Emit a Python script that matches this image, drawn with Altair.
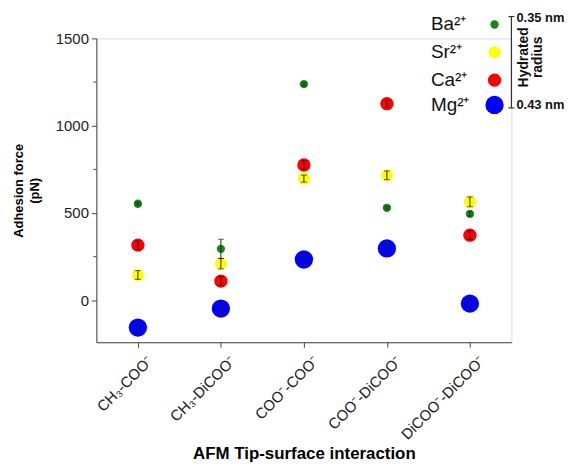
import altair as alt
import pandas as pd

categories = ["CH₃-COO⁻", "CH₃-DiCOO⁻", "COO⁻-COO⁻", "COO⁻-DiCOO⁻", "DiCOO⁻-DiCOO⁻"]
ions = ["Mg²⁺", "Ca²⁺", "Sr²⁺", "Ba²⁺"]
colors = ["#0000ff", "#ff0000", "#ffff00", "#138a13"]
sizes = [340, 180, 150, 70]

mg = [-156, -47, 234, 297, -19]
ca = [316, 110, 775, 1126, 373]
sr = [145, 210, 697, 716, 564]
ba = [553, 295, 1238, 530, 495]

mg_err = [20, 30, 25, 30, 30]
ca_err = [25, 25, 25, 20, 25]
sr_err = [25, 30, 20, 25, 28]
ba_err = [8, 55, 8, 8, 12]

legend_labels = ["Ba²⁺", "Sr²⁺", "Ca²⁺", "Mg²⁺"]
legend_colors = ["#138a13", "#ffff00", "#ff0000", "#0000ff"]
legend_sizes = [70, 150, 180, 340]
legend_y = [-14, 14, 42, 67]

rows = []
for ion, vals, errs, col, sz in zip(ions, [mg, ca, sr, ba], [mg_err, ca_err, sr_err, ba_err], colors, sizes):
    for c, v, e in zip(categories, vals, errs):
        rows.append({"cat": c, "ion": ion, "val": v, "lo": v - e, "hi": v + e, "color": col, "size": sz})
df = pd.DataFrame(rows)

FONT = "Liberation Sans"
xenc = alt.X("cat:N", sort=categories, scale=alt.Scale(type="point", padding=0.5),
             axis=alt.Axis(title="AFM Tip-surface interaction", labelAngle=-45, labelAlign="right",
                           labelBaseline="top", labelOffset=7, labelPadding=6, labelFontSize=15,
                           labelColor="#222", titleFontSize=17, titleFontWeight="bold",
                           titleY=112, titleBaseline="middle",
                           tickSize=5, domainColor="#444", tickColor="#444"))
yscale = alt.Scale(domain=[-240, 1500], nice=False, zero=False)
yenc = alt.Y("val:Q", scale=yscale,
             axis=alt.Axis(title=["Adhesion force", "(pN)"], values=[0, 500, 1000, 1500], format="d",
                           grid=False, labelFontSize=15, labelColor="#222", titleFontSize=13,
                           titleFontWeight="bold", titleLineHeight=16, titlePadding=14, tickSize=5,
                           domainColor="#444", tickColor="#444", labelPadding=3))

base = alt.Chart(df)
points = base.mark_circle(opacity=1).encode(
    x=xenc, y=yenc,
    color=alt.Color("color:N", scale=None),
    size=alt.Size("size:Q", scale=None),
    order=alt.Order("size:Q", sort="descending"),
)
err = base.mark_rule(color="#222", strokeWidth=1).encode(
    x=alt.X("cat:N", sort=categories), y=alt.Y("lo:Q", scale=yscale), y2="hi:Q")
cap_lo = base.mark_tick(color="#222", thickness=1, size=6, orient="horizontal").encode(
    x=alt.X("cat:N", sort=categories), y=alt.Y("lo:Q", scale=yscale))
cap_hi = base.mark_tick(color="#222", thickness=1, size=6, orient="horizontal").encode(
    x=alt.X("cat:N", sort=categories), y=alt.Y("hi:Q", scale=yscale))

minor = pd.DataFrame({"m": [250, 750, 1250]})
minor_ticks = alt.Chart(minor).mark_rule(color="#444", strokeWidth=1).encode(
    x=alt.value(-3), x2=alt.value(0), y=alt.Y("m:Q", scale=yscale))

leg = pd.DataFrame({"label": legend_labels, "color": legend_colors, "size": legend_sizes, "ly": legend_y})
leg_text = alt.Chart(leg).mark_text(align="left", baseline="middle", fontSize=19, font=FONT, color="#111").encode(
    x=alt.value(337), y=alt.Y("ly:Q", scale=None), text="label:N")
leg_dot = alt.Chart(leg).mark_circle(opacity=1).encode(
    x=alt.value(401), y=alt.Y("ly:Q", scale=None),
    color=alt.Color("color:N", scale=None), size=alt.Size("size:Q", scale=None))

one = pd.DataFrame({"a": [0]})
bracket = alt.Chart(one).mark_rule(color="#333", strokeWidth=1.2).encode(
    x=alt.value(418), y=alt.value(-22), y2=alt.value(70))
cap1 = alt.Chart(one).mark_rule(color="#333", strokeWidth=1.2).encode(
    x=alt.value(415), x2=alt.value(421), y=alt.value(-22))
cap2 = alt.Chart(one).mark_rule(color="#333", strokeWidth=1.2).encode(
    x=alt.value(415), x2=alt.value(421), y=alt.value(70))
t1 = alt.Chart(pd.DataFrame({"t": ["0.35 nm"]})).mark_text(align="left", baseline="middle", fontSize=13,
    fontWeight="bold", font=FONT, color="#111").encode(x=alt.value(423), y=alt.value(-21), text="t:N")
t2 = alt.Chart(pd.DataFrame({"t": ["0.43 nm"]})).mark_text(align="left", baseline="middle", fontSize=13,
    fontWeight="bold", font=FONT, color="#111").encode(x=alt.value(423), y=alt.value(67), text="t:N")
t3 = alt.Chart(pd.DataFrame({"t": ["Hydrated"]})).mark_text(align="center", baseline="middle", fontSize=14,
    fontWeight="bold", font=FONT, color="#111", angle=270).encode(x=alt.value(431), y=alt.value(19), text="t:N")
t4 = alt.Chart(pd.DataFrame({"t": ["radius"]})).mark_text(align="center", baseline="middle", fontSize=14,
    fontWeight="bold", font=FONT, color="#111", angle=270).encode(x=alt.value(445), y=alt.value(19), text="t:N")

chart = alt.layer(minor_ticks, points, err, cap_lo, cap_hi, leg_dot, leg_text, bracket, cap1, cap2, t1, t2, t3, t4).properties(
    width=418, height=306,
    autosize=alt.AutoSizeParams(type="none"),
    padding={"left": 89, "top": 29, "right": 58, "bottom": 120},
).configure_view(stroke=None).configure(font=FONT)

chart.save("out.html", embed_options={"renderer": "svg", "actions": False})
